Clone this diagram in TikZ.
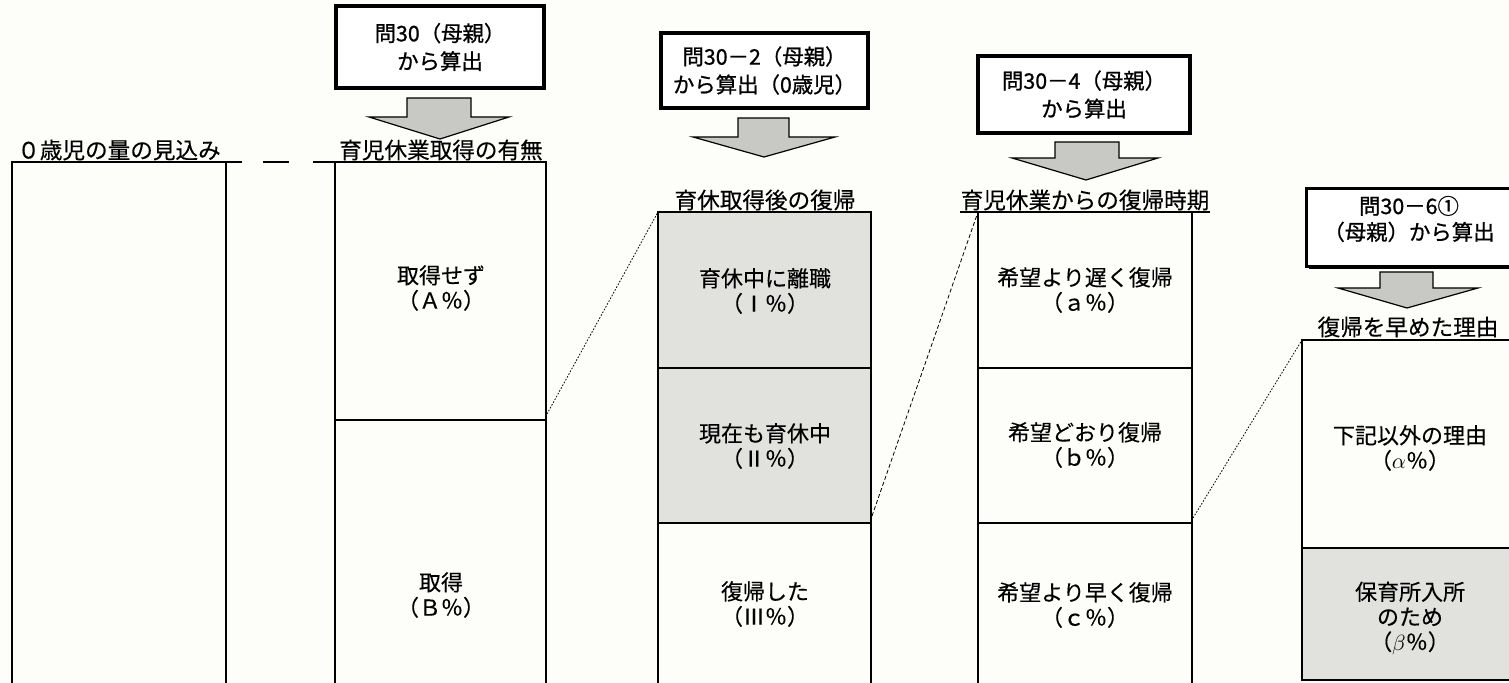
\documentclass[tikz,border=0pt]{standalone}
\usepackage{fontspec}
\setmainfont{Noto Sans CJK JP}[FakeBold=0.25]
\newfontfamily\srcfont{Noto Sans CJK JP}[FakeBold=0.9]
\usetikzlibrary{calc,shadows}
\definecolor{bg}{RGB}{253,253,249}
\definecolor{shade}{RGB}{225,225,222}
\definecolor{arrowfill}{RGB}{200,200,197}
\begin{document}
\begin{tikzpicture}[x=0.5pt,y=-0.5pt,
  cell/.style={draw=black, line width=0.8pt},
  shaded/.style={cell, fill=shade},
  srcbox/.style={draw=black, line width=1.6pt, fill=white, inner sep=0pt, align=center,
     drop shadow={shadow xshift=1pt, shadow yshift=-1pt, fill=black, opacity=1},
     font=\srcfont\fontsize{10.7pt}{14pt}\selectfont},
  head/.style={inner sep=0pt, font=\fontsize{11.3pt}{13pt}\selectfont},
  txt/.style={inner sep=0pt, align=center, font=\fontsize{11pt}{12.5pt}\selectfont},
  blockarrow/.style={draw=black, line width=0.6pt, fill=arrowfill, line join=miter},
  link/.style={line width=0.4pt, dash pattern=on 0.8pt off 0.8pt},
  linkdash/.style={line width=0.4pt, dash pattern=on 2pt off 1.2pt}]
\fill[bg] (0,0) rectangle (1509,683);
\useasboundingbox (0,0) rectangle (1509,683);
\clip (0,0) rectangle (1509,683);

% ---------- connectors' end points ----------
\coordinate (c2r) at (547,414);
\coordinate (c3l) at (658,212);
\coordinate (c3r) at (872,516);
\coordinate (c4l) at (978,212);
\coordinate (c4r) at (1193,518);
\coordinate (c5l) at (1302,340);

% ---------- column 1 ----------
\draw[cell] (12,700) -- (12,162) -- (226,162) -- (226,700);
\draw[cell] (12,162) -- (242,162);
\draw[cell] (263,162) -- (289,162);
\draw[cell] (313,162) -- (335,162);
\node[head] (h1) at (119,150) {０歳児の量の見込み};

% ---------- column 2 ----------
\draw[cell] (335,162) rectangle (546,420);
\draw[cell] (335,420) rectangle (546,700);
\node[head] (h2) at (441,150) {育児休業取得の有無};
\node[txt] (tA) at (441,288) {取得せず\\（Ａ％）};
\node[txt] (tB) at (441,595) {取得\\（Ｂ％）};
\node[srcbox, minimum width=104pt, minimum height=41pt] (s1) at (440,47) {問30（母親）\\から算出};
\draw[blockarrow] (407,98) -- (471,98) -- (471,117) -- (509,117) -- (440,139) -- (369,117) -- (407,117) -- cycle;

% ---------- column 3 ----------
\draw[shaded] (658,212) rectangle (871,368);
\draw[shaded] (658,368) rectangle (871,523);
\draw[cell] (658,523) rectangle (871,700);
\node[head] (h3) at (765,200) {育休取得後の復帰};
\node[txt] (tI) at (765,291) {育休中に離職\\（Ⅰ％）};
\node[txt] (tII) at (765,446) {現在も育休中\\（Ⅱ％）};
\node[txt] (tIII) at (765,604) {復帰した\\（Ⅲ％）};
\node[srcbox, minimum width=103.5pt, minimum height=37.5pt] (s2) at (764.5,70.5) {問30－2（母親）\\から算出（0歳児）};
\draw[blockarrow] (738,118) -- (789,118) -- (789,137) -- (835,137) -- (764,157) -- (693,137) -- (738,137) -- cycle;

% ---------- column 4 ----------
\draw[cell] (978,212) rectangle (1192,368);
\draw[cell] (978,368) rectangle (1192,523);
\draw[cell] (978,523) rectangle (1192,700);
\node[head] (h4) at (1085,200) {育児休業からの復帰時期};
\draw[cell] (h4.west |- c4l) -- (h4.east |- c4l);
\node[txt] (ta) at (1085,290) {希望より遅く復帰\\（ａ％）};
\node[txt] (tb) at (1085,445) {希望どおり復帰\\（ｂ％）};
\node[txt] (tc) at (1085,605) {希望より早く復帰\\（ｃ％）};
\node[srcbox, minimum width=106pt, minimum height=38.5pt] (s4) at (1084,94.5) {問30－4（母親）\\から算出};
\draw[blockarrow] (1055,142) -- (1119,142) -- (1119,158) -- (1158,158) -- (1086,180) -- (1012,158) -- (1055,158) -- cycle;

% ---------- column 5 ----------
\draw[cell] (1302,340) rectangle (1530,548);
\draw[shaded] (1302,548) rectangle (1530,680);
\node[head] (h5) at (1408,327) {復帰を早めた理由};
\draw[cell] (h5.west |- c5l) -- (c5l);
\node[txt] (talpha) at (1410,448) {下記以外の理由\\（$\alpha$％）};
\node[txt] (tbeta) at (1410,618) {保育所入所\\のため\\（$\beta$％）};
\node[srcbox, minimum width=110pt, minimum height=39pt, anchor=north west] (s5) at (1305,187) {};
\node[inner sep=0pt, align=center, font=\srcfont\fontsize{10.7pt}{13pt}\selectfont] (s5t) at (1409,219) {問30－6①\\（母親）から算出};
\draw[blockarrow] (1380,272) -- (1433,272) -- (1433,288) -- (1478,288) -- (1407,308) -- (1338,288) -- (1380,288) -- cycle;

% ---------- connectors ----------
\draw[link] (c2r) -- (c3l);
\draw[linkdash] (c3r) -- (c4l);
\draw[link] (c4r) -- (c5l);
\end{tikzpicture}
\end{document}
